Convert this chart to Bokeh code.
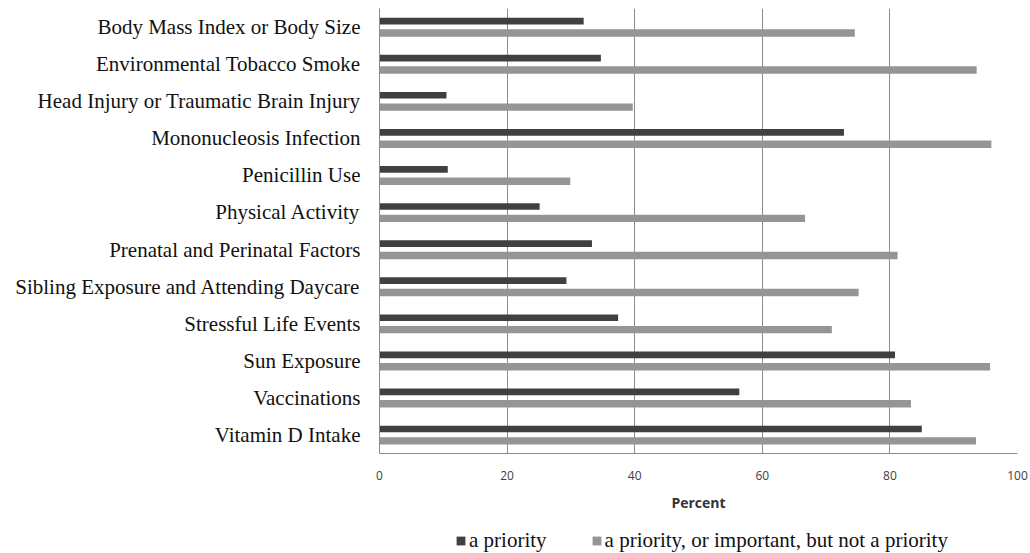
from bokeh.plotting import figure
from bokeh.layouts import column
from bokeh.models import (FactorRange, Range1d, Legend, LegendItem,
                          ColumnDataSource, FixedTicker)
from bokeh.transform import dodge
from bokeh.embed import file_html
from bokeh.resources import INLINE

categories = [
    "Body Mass Index or Body Size",
    "Environmental Tobacco Smoke",
    "Head Injury or Traumatic Brain Injury",
    "Mononucleosis Infection",
    "Penicillin Use",
    "Physical Activity",
    "Prenatal and Perinatal Factors",
    "Sibling Exposure and Attending Daycare",
    "Stressful Life Events",
    "Sun Exposure",
    "Vaccinations",
    "Vitamin D Intake",
]
a_priority = [32.0, 34.7, 10.5, 72.8, 10.7, 25.1, 33.3, 29.3, 37.4, 80.8, 56.4, 85.0]
priority_or_important = [74.5, 93.6, 39.7, 95.9, 29.9, 66.7, 81.2, 75.1, 70.9, 95.7, 83.3, 93.5]
x_ticks = [0, 20, 40, 60, 80, 100]
series_names = ["a priority", "a priority, or important, but not a priority"]
series_colors = ["#404040", "#959595"]
x_title = "Percent"

source = ColumnDataSource(dict(cat=categories, a=a_priority, b=priority_or_important))

fig = figure(
    y_range=FactorRange(factors=categories[::-1]),
    x_range=Range1d(0, 100),
    frame_width=638, frame_height=445,
    min_border_left=379, min_border_right=13,
    min_border_top=8, min_border_bottom=70,
    output_backend="svg", toolbar_location=None,
)
fig.outline_line_color = None
fig.background_fill_color = "white"
fig.border_fill_color = "white"

fig.hbar(y=dodge("cat", 0.16, range=fig.y_range), right="a", left=0, height=0.18,
         source=source, fill_color=series_colors[0], line_color=None)
fig.hbar(y=dodge("cat", -0.16, range=fig.y_range), right="b", left=0, height=0.2,
         source=source, fill_color=series_colors[1], line_color=None)

grey = "#8c8c8c"

# x axis
fig.xaxis.ticker = FixedTicker(ticks=x_ticks)
fig.xaxis.major_label_text_font = "Open Sans"
fig.xaxis.major_label_text_font_size = "12px"
fig.xaxis.major_label_text_color = "#404040"
fig.xaxis.major_tick_line_color = None
fig.xaxis.minor_tick_line_color = None
fig.xaxis.major_tick_out = 0
fig.xaxis.major_label_standoff = 17
fig.xaxis.axis_line_color = grey
fig.xaxis.axis_label = x_title
fig.xaxis.axis_label_text_font = "Open Sans"
fig.xaxis.axis_label_text_font_style = "bold"
fig.xaxis.axis_label_text_font_size = "14px"
fig.xaxis.axis_label_text_color = "#333333"
fig.xaxis.axis_label_standoff = 10

# y axis
fig.yaxis.axis_line_color = grey
fig.yaxis.major_tick_line_color = None
fig.yaxis.minor_tick_line_color = None
fig.yaxis.major_tick_out = 0
fig.yaxis.major_label_standoff = 19
fig.yaxis.major_label_text_font = "Liberation Serif"
fig.yaxis.major_label_text_font_size = "21px"
fig.yaxis.major_label_text_color = "#111111"

fig.ygrid.grid_line_color = None
fig.xgrid.grid_line_color = grey
fig.xgrid.grid_line_width = 1

# legend strip below the chart (its frame is aligned with the chart frame)
leg_fig = figure(
    width=1030, height=30, x_range=Range1d(0, 1), y_range=Range1d(0, 1),
    min_border=0, x_axis_location=None, y_axis_location=None,
    output_backend="svg", toolbar_location=None,
)
leg_fig.outline_line_color = None
leg_fig.grid.visible = False
leg_fig.background_fill_color = "white"
leg_fig.border_fill_color = "white"
# zero-width proxy bars, used only to give the legend its swatches
proxy = ColumnDataSource(dict(y=[0], left=[0], right=[0]))
lr1 = leg_fig.hbar(y="y", left="left", right="right", height=0.5, source=proxy,
                   fill_color=series_colors[0], line_color=None)
lr2 = leg_fig.hbar(y="y", left="left", right="right", height=0.5, source=proxy,
                   fill_color=series_colors[1], line_color=None)

legend = Legend(
    items=[LegendItem(label=series_names[0], renderers=[lr1]),
           LegendItem(label=series_names[1], renderers=[lr2])],
    location=(76, 0), orientation="horizontal",
    glyph_width=11, glyph_height=11, label_standoff=3, spacing=44,
    padding=0, margin=0, border_line_color=None, background_fill_alpha=0,
    label_text_font="Liberation Serif", label_text_font_size="21px",
    label_text_color="#111111",
)
leg_fig.add_layout(legend)

p = column(fig, leg_fig, spacing=0)

open("out.html", "w").write(file_html(p, INLINE))
